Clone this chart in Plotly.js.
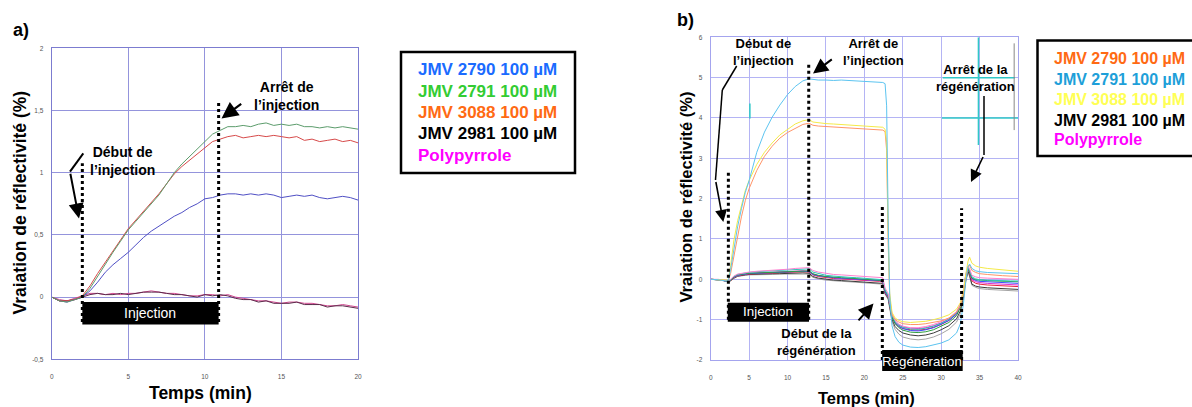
<!DOCTYPE html>
<html><head><meta charset="utf-8">
<script src="https://cdn.plot.ly/plotly-3.0.1.min.js"></script>
<style>html,body{margin:0;padding:0;background:#fff;}#chart{width:1192px;height:407px;}</style>
</head><body><div id="chart"></div>
<script>
// ---------- Panel a) data ----------
const timeA = [0,0.5,1,1.5,2,2.5,3,3.5,4,4.5,5,5.5,6,6.5,7,7.5,8,8.5,9,9.5,10,10.5,11,11.5,12,12.5,13,13.5,14,14.5,15,15.5,16,16.5,17,17.5,18,18.5,19,19.5,20];
const aJMV2791 = [0,-0.03,-0.04,-0.02,0.0,0.07,0.17,0.27,0.36,0.45,0.54,0.61,0.68,0.75,0.82,0.91,1.0,1.07,1.13,1.19,1.25,1.31,1.34,1.37,1.37,1.38,1.37,1.39,1.4,1.38,1.39,1.38,1.39,1.37,1.37,1.36,1.37,1.36,1.37,1.36,1.35];
const aJMV3088 = [0,-0.03,-0.03,-0.02,0.01,0.09,0.19,0.28,0.37,0.46,0.55,0.62,0.69,0.76,0.83,0.91,0.99,1.05,1.1,1.15,1.2,1.25,1.27,1.29,1.3,1.28,1.29,1.3,1.29,1.3,1.29,1.28,1.29,1.26,1.27,1.25,1.26,1.27,1.25,1.26,1.24];
const aJMV2790 = [0,-0.03,-0.04,-0.02,0.0,0.05,0.12,0.2,0.26,0.31,0.36,0.42,0.48,0.53,0.57,0.61,0.65,0.68,0.72,0.75,0.79,0.8,0.82,0.83,0.83,0.82,0.83,0.82,0.83,0.82,0.8,0.81,0.82,0.81,0.82,0.8,0.79,0.8,0.81,0.8,0.78];
const aPolypyrrole = [0,-0.02,-0.03,-0.01,0.01,0.03,0.03,0.02,0.03,0.02,0.03,0.03,0.04,0.05,0.04,0.03,0.03,0.02,0.01,0.01,0.02,0.02,0.01,0.02,0.0,-0.01,-0.02,-0.03,-0.03,-0.04,-0.05,-0.04,-0.04,-0.05,-0.05,-0.06,-0.07,-0.07,-0.06,-0.07,-0.08];
const aJMV2981 = [0,-0.03,-0.03,-0.02,0.0,0.02,0.03,0.02,0.02,0.03,0.02,0.03,0.04,0.04,0.04,0.03,0.02,0.02,0.01,0.0,0.02,0.01,0.02,0.01,-0.01,-0.02,-0.02,-0.04,-0.03,-0.05,-0.05,-0.05,-0.04,-0.06,-0.06,-0.06,-0.08,-0.07,-0.07,-0.08,-0.09];
const injectionA = [2, 10.9];          // start / stop of injection (min)
const xTicksA = [0,5,10,15,20];
const xTickTextA = ['0','5','10','15','20'];
const yTicksA = [-0.5,0,0.5,1,1.5,2];
const yTickTextA = ['-0,5','0','0,5','1','1,5','2'];
const legendA = ['JMV 2790 100 µM','JMV 2791 100 µM','JMV 3088 100 µM','JMV 2981 100 µM','Polypyrrole'];

// ---------- Panel b) data ----------
const timeB = [0,1,2,2.3,2.6,3,3.5,4,4.5,5,6,7,8,9,10,11,12,12.8,13.3,14,15,16,17,18,19,20,21,22,22.4,22.7,22.9,23.1,23.3,23.6,24,24.5,25,26,27,28,29,30,31,32,32.5,32.9,33.2,33.5,33.7,34,34.5,35,36,37,38,39,40];
const bJMV2791 = [0,-0.01,-0.04,-0.03,0.25,0.75,1.3,1.75,2.15,2.45,3.15,3.65,4.02,4.32,4.58,4.78,4.92,4.97,4.95,4.94,4.94,4.93,4.94,4.93,4.92,4.92,4.91,4.9,4.88,4.85,4.3,1.5,-0.4,-1.15,-1.42,-1.56,-1.63,-1.68,-1.69,-1.67,-1.63,-1.58,-1.5,-1.33,-1.1,-0.6,-0.05,0.32,0.38,0.27,0.21,0.19,0.17,0.16,0.15,0.14,0.14];
const bJMV3088 = [0,-0.01,-0.03,-0.02,0.35,0.95,1.45,1.85,2.2,2.45,2.85,3.15,3.38,3.58,3.72,3.85,3.93,3.96,3.9,3.88,3.86,3.85,3.84,3.83,3.82,3.81,3.8,3.79,3.77,3.72,3.4,1.2,-0.35,-0.82,-0.96,-1.02,-1.05,-1.07,-1.06,-1.04,-1.0,-0.95,-0.88,-0.74,-0.58,-0.28,0.12,0.45,0.55,0.4,0.33,0.3,0.27,0.25,0.23,0.21,0.2];
const bJMV2790 = [0,-0.01,-0.03,-0.03,0.15,0.55,1.1,1.55,1.95,2.25,2.7,3.05,3.3,3.5,3.64,3.75,3.84,3.87,3.82,3.8,3.79,3.78,3.77,3.76,3.75,3.74,3.73,3.72,3.7,3.66,3.2,0.9,-0.45,-0.88,-1.0,-1.06,-1.1,-1.12,-1.12,-1.1,-1.07,-1.03,-0.96,-0.82,-0.66,-0.38,0.0,0.3,0.35,0.22,0.17,0.14,0.12,0.1,0.09,0.08,0.07];
const bLow1 = [0,0.0,-0.03,-0.04,0.0,0.08,0.13,0.15,0.17,0.18,0.2,0.21,0.23,0.24,0.25,0.27,0.28,0.29,0.22,0.18,0.15,0.12,0.11,0.1,0.09,0.08,0.07,0.06,0.04,-0.22,-0.3,-0.35,-0.55,-0.85,-1.02,-1.11,-1.16,-1.2,-1.2,-1.17,-1.12,-1.05,-0.96,-0.8,-0.6,-0.26,0.12,0.33,0.26,0.1,0.06,0.04,0.03,0.02,0.01,0.0,0.0];
const bLow2 = [0,-0.01,-0.03,-0.05,-0.01,0.07,0.12,0.14,0.16,0.17,0.19,0.2,0.21,0.22,0.23,0.25,0.26,0.26,0.18,0.14,0.1,0.08,0.06,0.05,0.04,0.03,0.02,0.01,-0.01,-0.26,-0.34,-0.4,-0.6,-0.9,-1.05,-1.14,-1.19,-1.23,-1.24,-1.21,-1.16,-1.09,-0.99,-0.83,-0.63,-0.3,0.1,0.3,0.22,0.06,0.01,-0.01,-0.02,-0.03,-0.03,-0.04,-0.04];
const bLow3 = [0,-0.01,-0.04,-0.05,-0.02,0.06,0.11,0.13,0.14,0.15,0.16,0.17,0.18,0.19,0.2,0.2,0.21,0.21,0.14,0.1,0.07,0.05,0.04,0.03,0.02,0.01,0.0,-0.01,-0.03,-0.28,-0.36,-0.41,-0.62,-0.94,-1.1,-1.2,-1.26,-1.31,-1.32,-1.3,-1.25,-1.17,-1.07,-0.9,-0.7,-0.34,0.06,0.27,0.19,0.03,-0.01,-0.02,-0.03,-0.04,-0.05,-0.05,-0.06];
const bLow4 = [0,-0.01,-0.04,-0.05,-0.02,0.05,0.1,0.12,0.13,0.14,0.15,0.16,0.17,0.17,0.18,0.19,0.2,0.19,0.12,0.09,0.06,0.04,0.03,0.02,0.0,-0.01,-0.02,-0.03,-0.05,-0.3,-0.38,-0.42,-0.62,-0.92,-1.08,-1.17,-1.22,-1.27,-1.28,-1.25,-1.2,-1.12,-1.02,-0.86,-0.66,-0.32,0.08,0.28,0.2,0.02,-0.03,-0.05,-0.06,-0.07,-0.08,-0.09,-0.1];
const bLow5 = [0,-0.01,-0.04,-0.05,-0.02,0.05,0.1,0.12,0.14,0.15,0.16,0.17,0.18,0.18,0.19,0.2,0.21,0.2,0.13,0.09,0.06,0.04,0.02,0.01,0.0,-0.01,-0.02,-0.04,-0.06,-0.3,-0.38,-0.43,-0.63,-0.92,-1.06,-1.14,-1.18,-1.21,-1.22,-1.2,-1.15,-1.08,-0.98,-0.83,-0.64,-0.31,0.08,0.26,0.18,-0.01,-0.06,-0.08,-0.1,-0.11,-0.12,-0.13,-0.14];
const bLow6 = [0,-0.01,-0.04,-0.05,-0.03,0.04,0.09,0.11,0.12,0.13,0.14,0.15,0.16,0.16,0.17,0.18,0.19,0.18,0.11,0.07,0.04,0.02,0.01,0.0,-0.01,-0.02,-0.03,-0.05,-0.07,-0.32,-0.4,-0.44,-0.64,-0.94,-1.09,-1.17,-1.22,-1.25,-1.26,-1.24,-1.19,-1.12,-1.02,-0.86,-0.67,-0.33,0.06,0.25,0.16,-0.04,-0.1,-0.12,-0.14,-0.15,-0.16,-0.17,-0.18];
const bLow7 = [0,-0.01,-0.04,-0.06,-0.03,0.03,0.08,0.1,0.11,0.12,0.13,0.13,0.14,0.14,0.15,0.15,0.16,0.15,0.07,0.03,0.0,-0.02,-0.03,-0.04,-0.05,-0.06,-0.07,-0.08,-0.1,-0.35,-0.42,-0.47,-0.68,-1.0,-1.17,-1.27,-1.33,-1.38,-1.4,-1.38,-1.33,-1.25,-1.15,-0.98,-0.78,-0.42,-0.02,0.2,0.1,-0.12,-0.17,-0.19,-0.21,-0.22,-0.23,-0.24,-0.25];
const bLow8 = [0,-0.01,-0.05,-0.06,-0.04,0.02,0.07,0.09,0.1,0.11,0.11,0.12,0.12,0.13,0.13,0.14,0.14,0.13,0.05,0.01,-0.02,-0.04,-0.05,-0.06,-0.07,-0.08,-0.09,-0.1,-0.12,-0.37,-0.44,-0.5,-0.72,-1.05,-1.24,-1.36,-1.43,-1.48,-1.5,-1.48,-1.43,-1.35,-1.24,-1.06,-0.85,-0.48,-0.06,0.17,0.07,-0.15,-0.2,-0.23,-0.25,-0.26,-0.27,-0.28,-0.29];
const injectionB = [2.22, 12.8];
const regenerationB = [22.32, 32.8];
const xTicksB = [0,5,10,15,20,25,30,35,40];
const xTickTextB = ['0','5','10','15','20','25','30','35','40'];
const yTicksB = [-2,-1,0,1,2,3,4,5,6];
const yTickTextB = ['-2','-1','0','1','2','3','4','5','6'];
const legendB = ['JMV 2790 100 µM','JMV 2791 100 µM','JMV 3088 100 µM','JMV 2981 100 µM','Polypyrrole'];

// ---------- styles ----------
const FONT = 'Liberation Sans, Arial, Helvetica, sans-serif';
const W = 1192, H = 407;
const PX = v => v / W;
const PY = v => 1 - v / H;
const domXB = [PX(710.7), PX(1018)];
const rangeXB = [0, 40];
// convert a panel-b time value into paper x through the axis domain/range
const paperXB = v => domXB[0] + (v - rangeXB[0]) / (rangeXB[1] - rangeXB[0]) * (domXB[1] - domXB[0]);

const seriesA = [
  {y: aPolypyrrole, c: '#d0468e'},
  {y: aJMV2981, c: '#5a2a4a'},
  {y: aJMV2790, c: '#4f4fc4'},
  {y: aJMV3088, c: '#d64a4a'},
  {y: aJMV2791, c: '#5c9c6c'}
];
const seriesB = [
  {y: bLow8, c: '#a4a4a4'},
  {y: bLow7, c: '#3c3c3c'},
  {y: bLow6, c: '#e8203c'},
  {y: bLow5, c: '#e030d0'},
  {y: bLow4, c: '#3a4cff'},
  {y: bLow3, c: '#2f9e3f'},
  {y: bLow2, c: '#2ec4b6'},
  {y: bLow1, c: '#ff80d0'},
  {y: bJMV2790, c: '#ff9468'},
  {y: bJMV3088, c: '#f4ea48'},
  {y: bJMV2791, c: '#5cc4f0'}
];

const traces = [];
seriesA.forEach(s => traces.push({x: timeA, y: s.y, type: 'scatter', mode: 'lines', xaxis: 'x', yaxis: 'y', line: {color: s.c, width: 1}, hoverinfo: 'skip'}));
seriesB.forEach(s => traces.push({x: timeB, y: s.y, type: 'scatter', mode: 'lines', xaxis: 'x2', yaxis: 'y2', line: {color: s.c, width: 1}, hoverinfo: 'skip'}));

function ax(grid, line) {
  return {showgrid: true, gridcolor: grid, gridwidth: 1, showline: true, linecolor: line, linewidth: 1,
          mirror: true, zeroline: false, ticks: '', fixedrange: true,
          tickfont: {size: 6.5, color: '#555', family: FONT}};
}

const shapes = [
  // panel a
  {type: 'line', xref: 'x', yref: 'y', x0: injectionA[0], x1: injectionA[0], y0: -0.2, y1: 1.075, line: {color: '#000', width: 3, dash: 'dot'}},
  {type: 'line', xref: 'x', yref: 'y', x0: injectionA[1], x1: injectionA[1], y0: -0.2, y1: 1.56, line: {color: '#000', width: 3, dash: 'dot'}},
  {type: 'rect', xref: 'x', yref: 'y', x0: injectionA[0], x1: injectionA[1], y0: -0.22, y1: -0.04, fillcolor: '#000', line: {width: 0}},
  {type: 'line', xref: 'paper', yref: 'paper', x0: PX(83.3), y0: PY(153.3), x1: PX(70), y1: PY(171.7), line: {color: '#000', width: 2}},
  // legend box a
  {type: 'rect', xref: 'paper', yref: 'paper', x0: PX(401), x1: PX(575), y0: PY(173), y1: PY(52), line: {color: '#000', width: 2.5}},
  // panel b
  {type: 'line', xref: 'x2', yref: 'y2', x0: 2.3, x1: 2.3, y0: -1.0, y1: 2.71, line: {color: '#000', width: 3, dash: 'dot'}},
  {type: 'line', xref: 'x2', yref: 'y2', x0: 12.76, x1: 12.76, y0: -1.0, y1: 5.37, line: {color: '#000', width: 3, dash: 'dot'}},
  {type: 'line', xref: 'x2', yref: 'y2', x0: 22.34, x1: 22.34, y0: -2, y1: 1.8, line: {color: '#000', width: 3, dash: 'dot'}},
  {type: 'line', xref: 'x2', yref: 'y2', x0: 32.66, x1: 32.66, y0: -2, y1: 1.76, line: {color: '#000', width: 3, dash: 'dot'}},
  {type: 'rect', xref: 'x2', yref: 'y2', x0: injectionB[0], x1: injectionB[1], y0: -1.05, y1: -0.58, fillcolor: '#000', line: {width: 0}},
  {type: 'rect', xref: 'paper', yref: 'paper', x0: paperXB(regenerationB[0]), x1: paperXB(regenerationB[1]), y0: PY(371), y1: PY(350), fillcolor: '#000', line: {width: 0}},
  // screen artefacts in panel b
  {type: 'line', xref: 'x2', yref: 'y2', x0: 5.1, x1: 5.1, y0: 3.99, y1: 4.36, line: {color: '#30c8c8', width: 1.5}},
  {type: 'line', xref: 'x2', yref: 'y2', x0: 34.85, x1: 34.85, y0: 3.33, y1: 6.0, line: {color: '#30c8c8', width: 1.5}},
  {type: 'line', xref: 'x2', yref: 'y2', x0: 30.2, x1: 39.6, y0: 5.0, y1: 5.0, line: {color: '#30c8c8', width: 1.5}},
  {type: 'line', xref: 'x2', yref: 'y2', x0: 30.1, x1: 40, y0: 4.0, y1: 4.0, line: {color: '#30c8c8', width: 1.5}},
  {type: 'line', xref: 'x2', yref: 'y2', x0: 39.5, x1: 39.5, y0: 3.7, y1: 5.85, line: {color: '#888', width: 1}},
  // arrow polylines panel b
  {type: 'line', xref: 'paper', yref: 'paper', x0: PX(736.7), y0: PY(66), x1: PX(722.3), y1: PY(90), line: {color: '#000', width: 1.5}},
  {type: 'line', xref: 'paper', yref: 'paper', x0: PX(722.3), y0: PY(90), x1: PX(715.5), y1: PY(180), line: {color: '#000', width: 1.5}},
  {type: 'line', xref: 'paper', yref: 'paper', x0: PX(984), y0: PY(96), x1: PX(984), y1: PY(155), line: {color: '#000', width: 1.5}},
  // legend box b
  {type: 'rect', xref: 'paper', yref: 'paper', x0: PX(1037.5), x1: PX(1205), y0: PY(156), y1: PY(40.5), line: {color: '#000', width: 2.5}}
];

function txt(x, y, text, size, opts) {
  return Object.assign({xref: 'paper', yref: 'paper', x: PX(x), y: PY(y), text: text, showarrow: false,
    xanchor: 'center', yanchor: 'middle', font: {family: FONT, size: size, color: '#000'}}, opts || {});
}
function arrow(tipX, tipY, tailX, tailY, w) {
  return {xref: 'paper', yref: 'paper', x: PX(tipX), y: PY(tipY), ax: tailX - tipX, ay: tailY - tipY,
    showarrow: true, arrowhead: 2, arrowsize: 1.5, arrowwidth: w, arrowcolor: '#000', standoff: 0, startstandoff: 0,
    font: {size: 1}};
}

const colorsA = ['#1a6bff', '#33cc33', '#ff6a13', '#000000', '#ff00ff'];
const colorsB = ['#ff6a13', '#1e9fd9', '#ffff55', '#000000', '#ff00ff'];
const legYA = [70, 91, 112, 133, 155];
const legYB = [58.5, 79, 99.5, 120, 140];

const annotations = [
  txt(20.5, 29.5, '<b>a)</b>', 18),
  txt(685, 19.5, '<b>b)</b>', 18),
  txt(20, 202.5, '<b>Vraiation de réflectivité (%)</b>', 17.5, {textangle: -90}),
  txt(200, 393, '<b>Temps (min)</b>', 17.5),
  txt(685.5, 197, '<b>Vraiation de réflectivité (%)</b>', 16.5, {textangle: -90}),
  txt(866, 398, '<b>Temps (min)</b>', 16.5),
  // panel a notes
  {xref: 'x', yref: 'y', x: (injectionA[0] + injectionA[1]) / 2, y: -0.13, text: 'Injection', showarrow: false,
   font: {family: FONT, size: 14, color: '#fff'}},
  txt(122, 160.5, '<b>Début de<br>l’injection</b>', 14),
  txt(286, 95.5, '<b>Arrêt de<br>l’injection</b>', 14),
  arrow(79, 218.5, 70, 171.7, 2),
  arrow(221.5, 118.5, 242.7, 102.7, 2.2),
  // panel b notes
  {xref: 'x2', yref: 'y2', x: (injectionB[0] + injectionB[1]) / 2, y: -0.8, text: 'Injection', showarrow: false,
   font: {family: FONT, size: 13.4, color: '#fff'}},
  {xref: 'paper', yref: 'paper', x: paperXB((regenerationB[0] + regenerationB[1]) / 2), y: PY(361), text: 'Régénération', showarrow: false,
   xanchor: 'center', yanchor: 'middle', font: {family: FONT, size: 13.3, color: '#fff'}},
  txt(763.3, 52.5, '<b>Début de<br>l’injection</b>', 13),
  txt(873.3, 52.5, '<b>Arrêt de<br>l’injection</b>', 13),
  txt(975, 78, '<b>Arrêt de la<br>régénération</b>', 13),
  txt(816.7, 342, '<b>Début de la<br>régénération</b>', 13),
  arrow(723.3, 222, 715.5, 180, 1.6),
  arrow(813, 73.5, 833.3, 58.3, 2),
  arrow(971, 182, 984, 155, 1.6),
  arrow(873.5, 303.5, 857, 322, 2)
];
legendA.forEach((t, i) => annotations.push(txt(416, legYA[i], '<b>' + t + '</b>', 17, {xanchor: 'left', font: {family: FONT, size: 17, color: colorsA[i]}})));
legendB.forEach((t, i) => annotations.push(txt(1052, legYB[i], '<b>' + t + '</b>', 16, {xanchor: 'left', font: {family: FONT, size: 16, color: colorsB[i]}})));

const layout = {
  width: W, height: H, margin: {l: 0, r: 0, t: 0, b: 0},
  paper_bgcolor: '#fff', plot_bgcolor: '#fff', showlegend: false, hovermode: false,
  font: {family: FONT},
  xaxis: Object.assign(ax('#9494dc', '#7c7cd0'), {domain: [PX(51.7), PX(358)], range: [0, 20], anchor: 'y',
    tickvals: xTicksA, ticktext: xTickTextA, ticklabelstandoff: 11}),
  yaxis: Object.assign(ax('#9494dc', '#7c7cd0'), {domain: [PY(359.3), PY(48.3)], range: [-0.5, 2], anchor: 'x',
    tickvals: yTicksA, ticktext: yTickTextA, ticklabelstandoff: 6}),
  xaxis2: Object.assign(ax('#b4b4f4', '#a4a4ee'), {domain: domXB, range: rangeXB, anchor: 'y2',
    tickvals: xTicksB, ticktext: xTickTextB, ticklabelstandoff: 11}),
  yaxis2: Object.assign(ax('#b4b4f4', '#a4a4ee'), {domain: [PY(360), PY(37.3)], range: [-2, 6], anchor: 'x2',
    tickvals: yTicksB, ticktext: yTickTextB, ticklabelstandoff: 6}),
  shapes: shapes,
  annotations: annotations
};

Plotly.newPlot('chart', traces, layout, {displayModeBar: false, staticPlot: true});
</script></body></html>
